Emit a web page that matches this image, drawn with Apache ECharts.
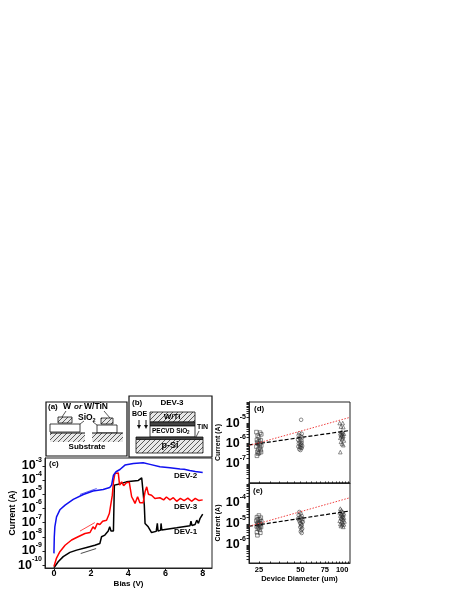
<!DOCTYPE html>
<html><head><meta charset="utf-8">
<style>html,body{margin:0;padding:0;background:#fff}#c{width:463px;height:599px}</style>
<script src="https://cdn.jsdelivr.net/npm/echarts@6/dist/echarts.min.js"></script></head>
<body><div id="c"></div>
<script>
// Panel (c): bias (V) and log10 of current (A)
const dev2Bias=[0,0.02,0.05,0.14,0.32,0.6,1.04,1.58,2.1,2.65,3.0,3.1,3.2,3.34,3.55,3.82,4.27,4.8,5.17,5.7,6.24,6.78,7.0,7.3,7.6,8];
const dev2Log=[-9.17,-8,-7.3,-6.6,-6.1,-5.77,-5.37,-5.02,-4.78,-4.67,-4.53,-4.36,-3.66,-3.42,-3.26,-2.95,-2.84,-2.79,-2.9,-3.07,-3.14,-3.23,-3.24,-3.33,-3.4,-3.47];
const dev3Bias=[0,0.14,0.32,0.6,0.95,1.3,1.67,1.94,2.1,2.2,2.33,2.47,2.62,2.83,2.98,3.07,3.14,3.2,3.28,3.46,3.53,3.64,3.75,3.9,4.05,4.12,4.18,4.27,4.36,4.5,4.62,4.8,4.9,4.99,5.08,5.25,5.43,5.7,5.9,6.05,6.24,6.42,6.6,6.8,7.0,7.2,7.4,7.6,7.8,8];
const dev3Log=[-10.1,-9.5,-9.05,-8.6,-8.23,-8,-7.77,-7.7,-7.3,-7.46,-7.06,-7.13,-6.9,-6.83,-6.36,-6.5,-5.07,-4.13,-3.54,-3.5,-4.36,-4.13,-4.4,-4.2,-4.15,-4.1,-5.18,-5.4,-5.65,-5.18,-5.6,-5.6,-4.83,-4.48,-5.0,-5.07,-5.3,-5.25,-5.4,-5.2,-5.4,-5.25,-5.5,-5.3,-5.45,-5.28,-5.5,-5.3,-5.45,-5.4];
const dev1Bias=[0,0.23,0.5,0.86,1.22,1.76,2.2,2.47,2.56,2.74,2.92,3.0,3.07,3.2,3.25,3.46,3.9,4.54,4.72,4.8,4.86,4.9,5.07,5.25,5.5,5.52,5.56,5.6,5.74,5.76,5.8,6.6,7.32,7.37,7.42,7.59,7.68,7.77,7.86,8];
const dev1Log=[-10.18,-9.76,-9.4,-9.1,-8.94,-8.75,-8.6,-8.47,-8,-7.88,-7.6,-7.3,-7.6,-7.6,-4.36,-4.3,-4.13,-4.03,-3.85,-3.94,-5.77,-7.06,-7.3,-7.7,-7.62,-7.6,-7.06,-7.6,-7.53,-7.06,-7.53,-7.37,-7.22,-6.9,-7.2,-7.13,-6.83,-7.05,-6.7,-6.4];
const arrowBlue=[[1.4,-5.02],[2.3,-4.6]];
const arrowRed=[[1.4,-7.6],[2.2,-7.0]];
const arrowBlack=[[1.44,-9.18],[2.27,-8.83]];
// Panel (d): diameter (um), log10 current
const d25X=[24,25.5,26,24.5,25,24.2,25.8,25,24.3,25.6,24.6,25.2,26,24,25.4,24.8,25.7,24.4,25.1,24.7,25.9,24.2];
const d25Y=[-5.44,-5.47,-5.55,-5.62,-5.7,-5.82,-5.85,-5.9,-5.95,-5.98,-6.02,-6.05,-6.1,-6.15,-6.2,-6.28,-6.32,-6.4,-6.45,-6.5,-6.42,-6.6];
const d50X=[50.5,49,51,48.5,50,51.5,49.5,48,50.8,49.2,51,50,48.6,50.6,49.8,51.4,48.2,49.5,50.2,51,49,50];
const d50Y=[-4.84,-5.5,-5.52,-5.6,-5.65,-5.7,-5.75,-5.82,-5.85,-5.9,-5.95,-5.98,-6,-6.05,-6.08,-6.12,-6.15,-6.18,-6.2,-6.22,-6.28,-6.32];
const d100X=[96,101,98,102,99,101,97,103,100,98,102,99,101,97,100,103,98,100,102,97];
const d100Y=[-5,-5,-5.17,-5.2,-5.42,-5.46,-5.5,-5.52,-5.55,-5.58,-5.62,-5.65,-5.68,-5.72,-5.78,-5.85,-5.92,-6.02,-6.08,-6.42];
const dBlack=[[21.2,-6.07],[114,-5.36]];
const dRed=[[21.2,-6.1],[114,-4.72]];
// Panel (e)
const e25X=[25,24.2,25.8,24.6,25.4,24,26,24.8,25.2,24.3,25.7,25,24.5,25.5,24.1,25.9,25,24.6,25.3,24.2,25.6,24.4];
const e25Y=[-4.6,-4.68,-4.7,-4.78,-4.8,-4.85,-4.88,-4.92,-4.95,-4.98,-5,-5.03,-5.06,-5.1,-5.12,-5.15,-5.18,-5.22,-5.28,-5.4,-5.42,-5.54];
const e50X=[49,50,48.5,51,49.5,50.5,48,51.5,50,49,51,52,49.6,50.4,51,50.6,49.8,51.4,50.8,50.2,51];
const e50Y=[-4.43,-4.5,-4.58,-4.62,-4.68,-4.7,-4.75,-4.78,-4.8,-4.85,-4.88,-4.9,-4.95,-5,-5.05,-5.1,-5.15,-5.22,-5.28,-5.36,-5.43];
const e100X=[97,99,101,96,103,98,100,102,97,101,99,103,98,100,102,96,104,99,101,97,103,100,98,102];
const e100Y=[-4.27,-4.35,-4.42,-4.45,-4.5,-4.52,-4.55,-4.58,-4.6,-4.65,-4.68,-4.7,-4.72,-4.75,-4.8,-4.85,-4.88,-4.9,-4.95,-5,-5.02,-5.05,-5.1,-5.14];
const eBlack=[[21.2,-5.11],[114,-4.38]];
const eRed=[[21.2,-5.11],[114,-3.75]];
const cExponents=[-10,-9,-8,-7,-6,-5,-4,-3];
const dExponents=[-7,-6,-5];
const eExponents=[-6,-5,-4];
const xTicksC=[0,2,4,6,8];
const xLabelsD=[25,50,75,100];
const xTicksD=[25,30,35,40,45,50,55,60,65,70,75,80,85,90,95,100,105,110];

const p=v=>Math.pow(10,v);
const pairsLog=(xs,ys)=>xs.map((x,i)=>[x,p(ys[i])]);
const pl=a=>a.map(d=>[d[0],p(d[1])]);
const FONT='"Liberation Sans"';
const sup=e=>`{a|10}{b|${String(e)}}`;
function logTicks(lo,hi){const out=[];for(let e=Math.floor(lo);e<Math.ceil(hi);e++){for(let m=1;m<10;m++){const l=e+Math.log10(m);if(l>=lo&&l<=hi)out.push(p(l));}}return out;}
const supLabel={show:true,fontFamily:FONT,fontWeight:'bold',margin:3,hideOverlap:false,showMinLabel:false,showMaxLabel:false,
  formatter:v=>{const l=Math.log10(v),r=Math.round(l);return Math.abs(l-r)<1e-6?sup(r):'';},
  rich:{a:{fontFamily:FONT,fontWeight:'bold',fontSize:12.5,padding:[3,0,3,0]},b:{fontFamily:FONT,fontWeight:'bold',fontSize:7,verticalAlign:'top'}}};
function yAxis(idx,lo,hi,exps,name,gap,nameSize,tickVals){
  const a=p(lo+0.01),b=p(hi-0.01);
  return {type:'log',gridIndex:idx,min:p(lo),max:p(hi),name,nameLocation:'middle',nameGap:gap,nameMoveOverlap:false,
    nameTextStyle:{fontFamily:FONT,fontWeight:'bold',fontSize:nameSize,color:'#000'},
    axisLine:{show:true,onZero:false,lineStyle:{color:'#222',width:1}},
    axisTick:{show:true,inside:false,length:2.5,lineStyle:{color:'#222',width:1},customValues:[a].concat(tickVals,[b])},
    axisLabel:Object.assign({},supLabel,{customValues:[a].concat(exps.map(p),[b]),color:'#000'}),
    minorTick:{show:false},splitLine:{show:false}};
}
const line=(x,y,color,xi,w)=>({type:'line',xAxisIndex:xi,yAxisIndex:xi,data:pairsLog(x,y),showSymbol:false,symbol:'none',clip:true,silent:true,lineStyle:{color,width:w||1.5},z:3});
const seg=(a,color,xi,type,w)=>({type:'line',xAxisIndex:xi,yAxisIndex:xi,data:pl(a),showSymbol:false,symbol:'none',clip:true,silent:true,lineStyle:{color,width:w,type},z:4});
const pts=(x,y,sym,xi)=>({type:'scatter',xAxisIndex:xi,yAxisIndex:xi,data:pairsLog(x,y),symbol:sym,symbolSize:3.6,silent:true,itemStyle:{color:'rgba(255,255,255,0)',borderColor:'#333',borderWidth:0.7},z:2});

function hatch(){const s=5,c=document.createElement('canvas');c.width=c.height=s;const g=c.getContext('2d');g.fillStyle='#e8e8e8';g.fillRect(0,0,s,s);g.strokeStyle='#333';g.lineWidth=0.8;
  g.beginPath();g.moveTo(0,s);g.lineTo(s,0);g.moveTo(-1,1);g.lineTo(1,-1);g.moveTo(s-1,s+1);g.lineTo(s+1,s-1);g.stroke();return {image:c,repeat:'repeat'};}
const H=hatch();
const rect=(x,y,w,h,fill,lw)=>({type:'rect',shape:{x,y,width:w,height:h},style:{fill:fill||'#fff',stroke:'#111',lineWidth:lw==null?0.8:lw},z:10});
const txt=(x,y,t,size,align,extra)=>({type:'text',x,y,style:Object.assign({text:t,fontFamily:FONT,fontWeight:'bold',fontSize:size,fill:'#000',align:align||'left',verticalAlign:'middle'},extra||{}),z:12});
const seg2=(x1,y1,x2,y2,w)=>({type:'line',shape:{x1,y1,x2,y2},style:{stroke:'#111',lineWidth:w||0.7},z:11});
const graphics=[
 // (a)
 rect(46,402,81,54,'#fff',1.2),
 txt(48,407,'(a)',8),
 txt(63,407,'W',8.5),txt(74,407,'or',8,'left',{fontStyle:'italic'}),txt(84,407,'W/TiN',8.5),
 seg2(62,417,66,411),seg2(110,418,104,411),
 rect(58,417,14,6,H),txt(78,418,'SiO',8.5),txt(92.5,420,'2',5.5),
 rect(101,418,12,6,H),
 rect(50,424,30,8,'#fff'),rect(97,425,20,8,'#fff'),
 seg2(80,424,84,421),seg2(97,425,93,422),
 rect(50,433,35,9,H,0),rect(92,433,31,9,H,0),seg2(50,433,85,433,1),seg2(92,433,123,433,1),
 txt(87,447,'Substrate',8,'center'),
 // (b)
 rect(129,396,83,61,'#fff',1.2),
 txt(132,403,'(b)',8),txt(172,403,'DEV-3',8,'center'),
 txt(132,414,'BOE',7),
 seg2(139,420,139,427,1),seg2(146,420,146,427,1),
 {type:'polygon',shape:{points:[[137,425],[141,425],[139,429]]},style:{fill:'#111'},z:11},
 {type:'polygon',shape:{points:[[144,425],[148,425],[146,429]]},style:{fill:'#111'},z:11},
 rect(150,412,45,10,H),txt(172,417,'W/Ti',8,'center'),
 rect(150,422,45,4,'#444'),
 rect(150,426,45,11,'#fff'),txt(152,431,'PECVD SiO',6.5),txt(187,433,'2',4.5),
 txt(197,427,'TiN',7),seg2(199,431,196,437),
 rect(136,437,67,2.5,'#444'),rect(136,439.5,67,13.5,H),txt(170,446,'p-Si',9,'center'),
 // labels
 txt(49,464,'(c)',8),txt(254,409,'(d)',8),txt(253,491,'(e)',8),
 txt(174,476,'DEV-2',8),txt(174,507,'DEV-3',8),txt(174,532,'DEV-1',8),
 // frames
 {type:'rect',shape:{x:45,y:458,width:167,height:110},style:{fill:'none',stroke:'#222',lineWidth:1},z:9},
 {type:'rect',shape:{x:249,y:402,width:101,height:81},style:{fill:'none',stroke:'#222',lineWidth:1},z:9},
 {type:'rect',shape:{x:249,y:483,width:101,height:80},style:{fill:'none',stroke:'#222',lineWidth:1},z:9}
];

const xAxisD=(idx,show)=>({type:'log',gridIndex:idx,min:21.2,max:114,name:show?'Device Diameter (um)':'',nameLocation:'middle',nameGap:11,
  nameTextStyle:{fontFamily:FONT,fontWeight:'bold',fontSize:7.5,color:'#000'},
  axisLine:{show:true,onZero:false,lineStyle:{color:'#222'}},
  axisTick:{show:true,inside:true,length:1.5,lineStyle:{color:'#222'},customValues:xTicksD},
  axisLabel:{show:show,fontFamily:FONT,fontWeight:'bold',fontSize:7.5,color:'#000',margin:3,customValues:xLabelsD,formatter:v=>String(v)},
  minorTick:{show:false},splitLine:{show:false}});

const chart=echarts.init(document.getElementById('c'),null,{renderer:'canvas'});
chart.setOption({animation:false,backgroundColor:'#fff',
 grid:[{left:45,top:458,width:167,height:110},{left:249,top:402,width:101,height:81},{left:249,top:483,width:101,height:80}],
 xAxis:[{type:'value',gridIndex:0,min:-0.48,max:8.5,name:'Bias (V)',nameLocation:'middle',nameGap:12,
   nameTextStyle:{fontFamily:FONT,fontWeight:'bold',fontSize:8,color:'#000'},
   axisLine:{show:true,onZero:false,lineStyle:{color:'#222'}},
   axisTick:{length:3,lineStyle:{color:'#222'},customValues:xTicksC},
   axisLabel:{fontFamily:FONT,fontWeight:'bold',fontSize:9,color:'#000',margin:1,customValues:xTicksC,formatter:v=>String(v)},
   splitLine:{show:false}},
  xAxisD(1,false),xAxisD(2,true)],
 yAxis:[yAxis(0,-10.2,-2.45,cExponents,'Current (A)',28,8.5,cExponents.map(p)),
  yAxis(1,-7.93,-3.97,dExponents,'Current (A)',27,7,logTicks(-7.93,-3.97)),
  yAxis(2,-6.86,-3.05,eExponents,'Current (A)',27,7,logTicks(-6.86,-3.05))],
 series:[
  line(dev1Bias,dev1Log,'#000',0),
  line(dev3Bias,dev3Log,'#ff0000',0),
  line(dev2Bias,dev2Log,'#1010f0',0),
  seg(arrowBlue,'#1010f0',0,'solid',0.7),seg(arrowRed,'#ff0000',0,'solid',0.7),seg(arrowBlack,'#000',0,'solid',0.7),
  pts(d25X,d25Y,'rect',1),pts(d50X,d50Y,'circle',1),pts(d100X,d100Y,'triangle',1),
  seg(dBlack,'#000',1,[4,2],1.2),seg(dRed,'#f04040',1,[1.5,1.5],1),
  pts(e25X,e25Y,'rect',2),pts(e50X,e50Y,'circle',2),pts(e100X,e100Y,'triangle',2),
  seg(eBlack,'#000',2,[4,2],1.2),seg(eRed,'#f04040',2,[1.5,1.5],1)
 ],
 graphic:{elements:graphics}
});
</script></body></html>
